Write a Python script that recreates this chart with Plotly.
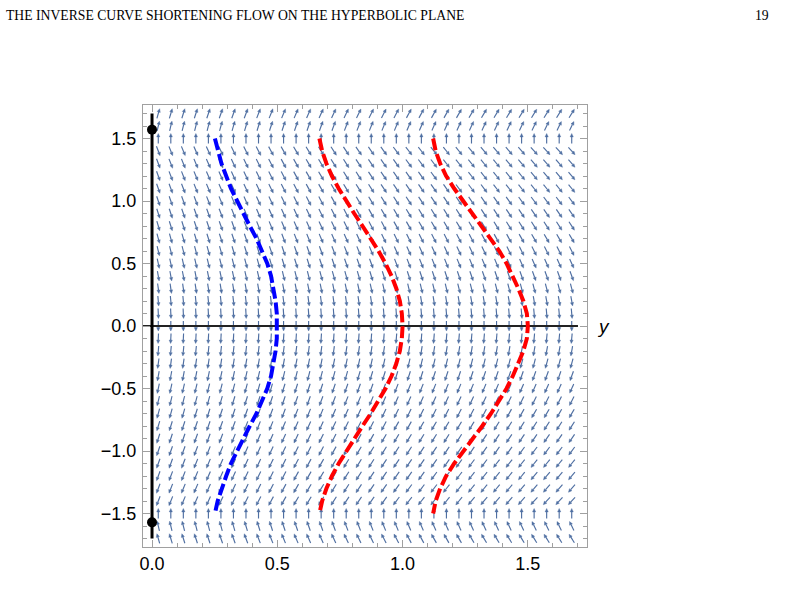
import numpy as np
import plotly.graph_objects as go

# ---------------- data ----------------
half_y = [1.5, 1.4, 1.3, 1.2, 1.1, 1.0, 0.9, 0.8, 0.7, 0.6, 0.5, 0.4, 0.3, 0.2, 0.1, 0.0]
blue_half = [0.251, 0.262, 0.277, 0.296, 0.315, 0.340, 0.364, 0.390, 0.417, 0.440, 0.460,
             0.475, 0.485, 0.493, 0.498, 0.500]
red1_half = [0.668, 0.679, 0.696, 0.718, 0.745, 0.775, 0.807, 0.840, 0.873, 0.904, 0.932,
             0.956, 0.975, 0.989, 0.997, 1.000]
red2_half = [1.122, 1.132, 1.150, 1.174, 1.206, 1.242, 1.280, 1.318, 1.353, 1.386, 1.415,
             1.440, 1.462, 1.482, 1.496, 1.500]

# curves are symmetric about y = 0
curve_y = half_y + [-v for v in half_y[-2::-1]]
blue_x = blue_half + blue_half[-2::-1]
red1_x = red1_half + red1_half[-2::-1]
red2_x = red2_half + red2_half[-2::-1]

# direction field grid
field_cols = [0.025, 0.075, 0.125, 0.175, 0.225, 0.275, 0.325, 0.375, 0.425, 0.475,
              0.525, 0.575, 0.625, 0.675, 0.725, 0.775, 0.825, 0.875, 0.925, 0.975,
              1.025, 1.075, 1.125, 1.175, 1.225, 1.275, 1.325, 1.375, 1.425, 1.475,
              1.525, 1.575, 1.625, 1.675]
# slant gain per column (left columns are steeper)
col_gain = [0.50, 0.52, 0.54, 0.56, 0.58, 0.60, 0.62, 0.64, 0.66, 0.68,
            0.70, 0.72, 0.74, 0.76, 0.78, 0.80, 0.82, 0.84, 0.86, 0.88,
            0.89, 0.90, 0.91, 0.92, 0.93, 0.94, 0.95, 0.96, 0.97, 0.98,
            0.99, 1.00, 1.00, 1.00]
field_rows = [1.7, 1.6, 1.5, 1.4, 1.3, 1.2, 1.1, 1.0, 0.9, 0.8, 0.7, 0.6, 0.5,
              0.4, 0.3, 0.2, 0.1, 0.0, -0.1, -0.2, -0.3, -0.4, -0.5, -0.6, -0.7,
              -0.8, -0.9, -1.0, -1.1, -1.2, -1.3, -1.4, -1.5, -1.6, -1.7]
# pointing: +1 up, -1 down ; slant in degrees at right edge (+ = toward +x)
row_dir = [1, 1, 1, -1, -1, -1, -1, -1, -1, -1, -1, -1, -1,
           -1, -1, -1, -1, -1, -1, -1, -1, -1, -1, -1, -1,
           -1, -1, -1, -1, -1, -1, -1, 1, 1, 1]
row_slant = [32, 26, 0, 42, 41, 40, 39, 37, 35, 33, 30, 27, 24,
             20, 15, 10, 5, 0, -5, -10, -15, -20, -24, -27, -30,
             -33, -35, -37, -39, -40, -41, -42, 0, -26, -32]

y_ticks = [-1.5, -1.0, -0.5, 0.0, 0.5, 1.0, 1.5]
y_tick_text = ["\u22121.5", "\u22121.0", "\u22120.5", "0.0", "0.5", "1.0", "1.5"]
x_ticks = [0.0, 0.5, 1.0, 1.5]
x_tick_text = ["0.0", "0.5", "1.0", "1.5"]

# ---------------- layout geometry ----------------
W, H = 785, 612
ML, MR, MT, MB = 143, 198, 105, 65
XR = [-0.036, 1.736]
YR = [-1.768, 1.768]
pw, ph = W - ML - MR, H - MT - MB
sx = pw / (XR[1] - XR[0])
sy = ph / (YR[1] - YR[0])

ARROW_COLOR = "#4f6fa2"
L = 10.0     # arrow length px
HL = 3.4     # head length px
HW = 1.6     # head half-width px

shaft_x, shaft_y, head_x, head_y = [], [], [], []
for r, yv in enumerate(field_rows):
    for c, xv in enumerate(field_cols):
        ang = np.deg2rad(row_slant[r] * col_gain[c])
        ux = np.sin(ang)
        uy = np.cos(ang) * row_dir[r]
        tx, ty = -ux * L / 2, -uy * L / 2
        hx, hy = ux * L / 2, uy * L / 2
        bx, by = hx - ux * HL, hy - uy * HL
        px_, py_ = -uy, ux
        shaft_x += [xv + tx / sx, xv + bx / sx, None]
        shaft_y += [yv + ty / sy, yv + by / sy, None]
        head_x += [xv + hx / sx, xv + (bx + px_ * HW) / sx, xv + (bx - px_ * HW) / sx, xv + hx / sx, None]
        head_y += [yv + hy / sy, yv + (by + py_ * HW) / sy, yv + (by - py_ * HW) / sy, yv + hy / sy, None]

fig = go.Figure()
fig.add_trace(go.Scatter(x=shaft_x, y=shaft_y, mode="lines",
                         line=dict(color=ARROW_COLOR, width=1.15),
                         hoverinfo="skip", showlegend=False))
fig.add_trace(go.Scatter(x=head_x, y=head_y, mode="lines", fill="toself",
                         fillcolor=ARROW_COLOR,
                         line=dict(color=ARROW_COLOR, width=0.4),
                         hoverinfo="skip", showlegend=False))

# axis lines
fig.add_trace(go.Scatter(x=[XR[0], 1.7], y=[0, 0], mode="lines",
                         line=dict(color="#222222", width=2), showlegend=False, hoverinfo="skip"))
fig.add_trace(go.Scatter(x=[0, 0], y=[-1.7, 1.7], mode="lines",
                         line=dict(color="black", width=3), showlegend=False, hoverinfo="skip"))

# curves
for xs, col in [(blue_x, "rgb(0,0,255)"), (red1_x, "rgb(255,0,0)"), (red2_x, "rgb(255,0,0)")]:
    fig.add_trace(go.Scatter(x=xs, y=curve_y, mode="lines",
                             line=dict(color=col, width=4, dash="12px,4px"),
                             showlegend=False, hoverinfo="skip"))

fig.add_trace(go.Scatter(x=[0, 0], y=[np.pi / 2, -np.pi / 2], mode="markers",
                         marker=dict(color="black", size=10), showlegend=False, hoverinfo="skip"))

frame_col = "#a0a0a0"
common = dict(showgrid=False, zeroline=False, showline=True, linecolor=frame_col, linewidth=1,
              mirror="allticks", ticks="inside", ticklen=7, tickcolor=frame_col, tickwidth=1,
              tickfont=dict(family="Liberation Sans, Arial, sans-serif", size=18, color="black"))
fig.update_xaxes(range=XR, tickvals=x_ticks, ticktext=x_tick_text, **common,
                 minor=dict(ticks="inside", ticklen=4, tickcolor=frame_col, tick0=0, dtick=0.1))
fig.update_yaxes(range=YR, tickvals=y_ticks, ticktext=y_tick_text, **common,
                 minor=dict(ticks="inside", ticklen=4, tickcolor=frame_col, tick0=0, dtick=0.1),
                 ticklabelstandoff=2)

def pxx(p):
    return (p - ML) / pw

def pxy(p):
    return (H - MB - p) / ph

fig.update_layout(
    width=W, height=H, margin=dict(l=ML, r=MR, t=MT, b=MB),
    paper_bgcolor="white", plot_bgcolor="white",
    annotations=[
        dict(text="THE INVERSE CURVE SHORTENING FLOW ON THE HYPERBOLIC PLANE",
             xref="paper", yref="paper", x=pxx(4), y=pxy(15), xanchor="left", yanchor="middle",
             showarrow=False, font=dict(family="Liberation Serif, serif", size=13.7, color="black")),
        dict(text="19", xref="paper", yref="paper", x=pxx(771), y=pxy(15), xanchor="right", yanchor="middle",
             showarrow=False, font=dict(family="Liberation Serif, serif", size=13.7, color="black")),
        dict(text="<i>y</i>", xref="paper", yref="paper", x=pxx(603), y=pxy(326), xanchor="center", yanchor="middle",
             showarrow=False, font=dict(family="Liberation Sans, Arial, sans-serif", size=19, color="black")),
    ],
)

fig.write_html("out.html")
